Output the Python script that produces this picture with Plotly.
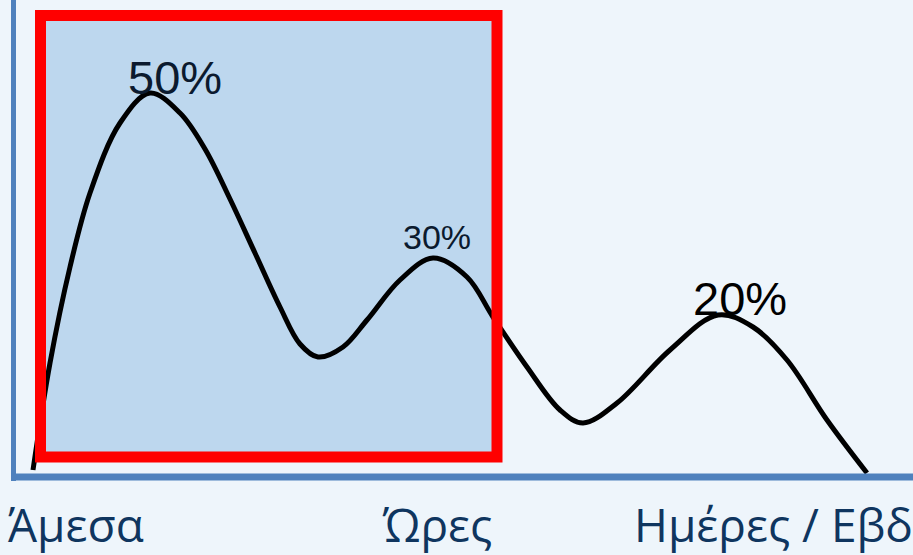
import plotly.graph_objects as go

# Curve (x: horizontal position, h: height above the baseline)
curve_x = [33, 50, 70, 90, 120, 150, 180, 205, 230, 255, 280, 300, 318, 343, 367, 400,
           433, 467, 493, 527, 560, 583, 617, 670, 718, 753, 787, 827, 867]
curve_h = [7, 114, 210, 284, 354, 384, 364, 328, 278, 224, 170, 133, 120, 130, 157, 197,
           219, 200, 160, 110, 67, 54, 74, 127, 162, 150, 117, 57, 4]

peak_labels = ["50%", "30%", "20%"]
peak_label_x = [175, 437, 740]
peak_label_h = [400, 240, 179]
peak_label_size = [47, 34, 47]
peak_label_color = ["#0b1a2e", "#0b1a2e", "#000000"]

category_labels = ["Άμεσα", "Ώρες", "Ημέρες / Εβδομάδες"]
category_x = [6, 437, 632]
category_anchor = ["left", "center", "left"]

BASE = 477
W, H = 913, 555

fig = go.Figure()
fig.add_trace(go.Scatter(x=curve_x, y=curve_h, mode="lines",
                         line=dict(color="#000000", width=5, shape="spline", smoothing=1.0),
                         hoverinfo="skip", showlegend=False))

shapes = []
# highlighted window fill (below the curve)
shapes.append(dict(type="rect", xref="x", yref="y", x0=40.5, x1=497, y0=BASE - 457, y1=BASE - 15.5,
                   fillcolor="#bdd7ee", line=dict(width=0), layer="below"))
# red border (above the curve)
shapes.append(dict(type="rect", xref="x", yref="y", x0=40.5, x1=497, y0=BASE - 457, y1=BASE - 15.5,
                   fillcolor="rgba(0,0,0,0)", line=dict(color="#ff0000", width=11), layer="above"))
# axis lines
shapes.append(dict(type="line", xref="x", yref="y", x0=13.5, x1=13.5, y0=BASE - 481, y1=BASE + 10,
                   line=dict(color="#4f81bd", width=5), layer="above"))
shapes.append(dict(type="line", xref="x", yref="y", x0=11, x1=W + 5, y0=0, y1=0,
                   line=dict(color="#4f81bd", width=7), layer="above"))

annotations = []
for t, x, h, s, c in zip(peak_labels, peak_label_x, peak_label_h, peak_label_size, peak_label_color):
    annotations.append(dict(x=x, y=h, xref="x", yref="y", text=t, showarrow=False,
                            xanchor="center", yanchor="middle",
                            font=dict(family="Liberation Sans, Arial", size=s, color=c)))
for t, x, a in zip(category_labels, category_x, category_anchor):
    annotations.append(dict(x=x, y=BASE - 524, xref="x", yref="y", text=t, showarrow=False,
                            xanchor=a, yanchor="middle",
                            font=dict(family="Open Sans, Noto Sans", size=46, color="#0f355f")))

fig.update_layout(
    width=W, height=H,
    margin=dict(l=0, r=0, t=0, b=0),
    paper_bgcolor="#eef5fb", plot_bgcolor="#eef5fb",
    xaxis=dict(range=[0, W], visible=False, fixedrange=True),
    yaxis=dict(range=[BASE - H, BASE], visible=False, fixedrange=True),
    shapes=shapes, annotations=annotations, showlegend=False,
)

fig.write_html("out.html")
